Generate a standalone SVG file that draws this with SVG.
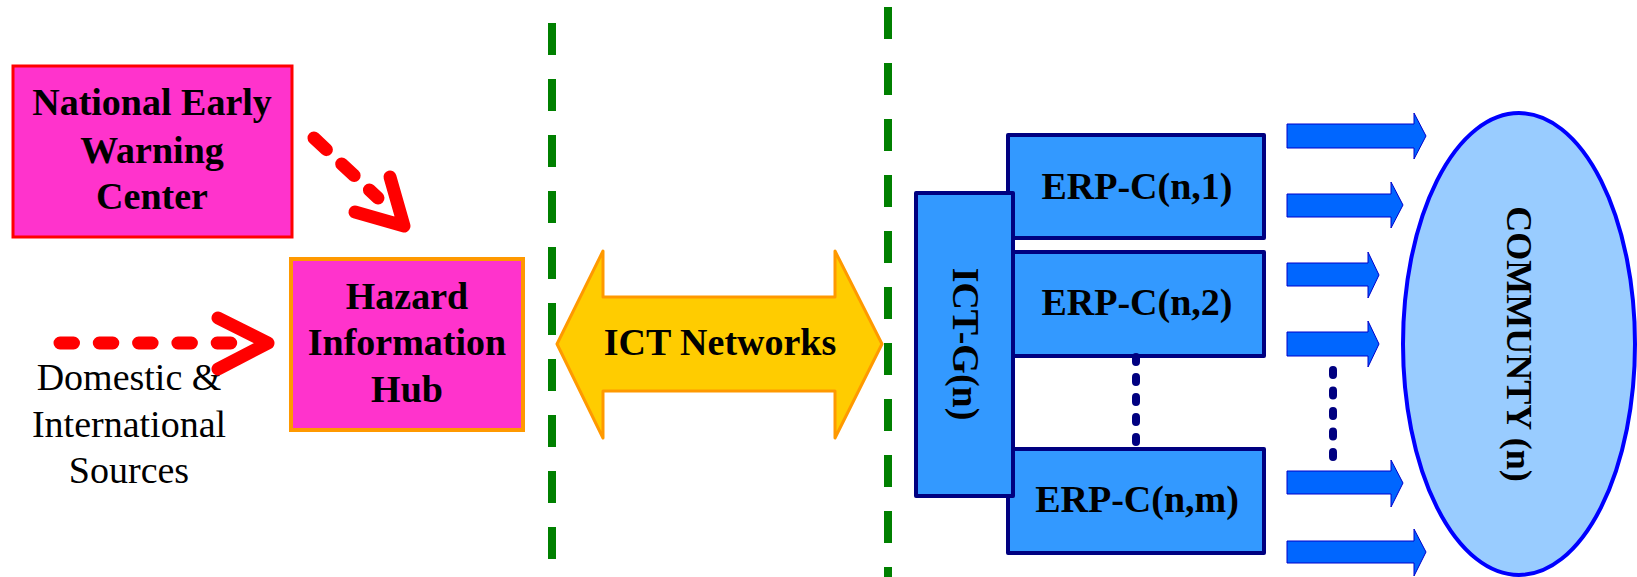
<svg xmlns="http://www.w3.org/2000/svg" width="1637" height="577" viewBox="0 0 1637 577">
<style>
.bt{font-family:"Liberation Serif","Times New Roman",serif;font-weight:bold;font-size:38px;fill:#000;text-anchor:middle}
.rt{font-family:"Liberation Serif","Times New Roman",serif;font-size:38px;fill:#000;text-anchor:middle}
.erp{fill:#3399FF;stroke:#000080;stroke-width:4;stroke-linejoin:round}
.sep{stroke:#008000;stroke-width:8;stroke-dasharray:32 24;fill:none}
.red{stroke:#FF0000;stroke-width:13;fill:none;stroke-linecap:round;stroke-linejoin:round}
.dots{stroke:#000080;stroke-width:8;stroke-linecap:round;fill:none}
.barrow{fill:#0066FF;stroke:#0000CC;stroke-width:1}
</style>
<rect width="1637" height="577" fill="#fff"/>
<g id="separators">
<line class="sep" x1="552" y1="23" x2="552" y2="577"/>
<line class="sep" x1="888" y1="7" x2="888" y2="577"/>
</g>
<g id="node-newc">
<rect x="13" y="66" width="279" height="171" fill="#FF33CC" stroke="#FF0000" stroke-width="3"/>
<text class="bt" x="152" y="115">National Early</text>
<text class="bt" x="152" y="163">Warning</text>
<text class="bt" x="152" y="209">Center</text>
</g>
<g id="node-hub">
<rect x="291" y="259" width="232" height="171" fill="#FF33CC" stroke="#FF9900" stroke-width="4"/>
<text class="bt" x="407" y="309">Hazard</text>
<text class="bt" x="407" y="355">Information</text>
<text class="bt" x="407" y="402">Hub</text>
</g>
<g id="node-sources">
<text class="rt" x="129" y="390">Domestic &amp;</text>
<text class="rt" x="129" y="437">International</text>
<text class="rt" x="129" y="483">Sources</text>
</g>
<g id="node-ict-networks">
<polygon points="557,344 603,251 603,297 835,297 835,251 882,344 835,438 835,391 603,391 603,438" fill="#FFCC00" stroke="#FF9900" stroke-width="3" stroke-linejoin="round"/>
<text class="bt" x="720" y="355">ICT Networks</text>
</g>
<g id="node-erp1">
<rect class="erp" x="1008" y="135" width="256" height="103"/>
<text class="bt" x="1137" y="199">ERP-C(n,1)</text>
</g>
<g id="node-erp2">
<rect class="erp" x="1008" y="252" width="256" height="104"/>
<text class="bt" x="1137" y="315">ERP-C(n,2)</text>
</g>
<g id="node-erpm">
<rect class="erp" x="1008" y="449" width="256" height="104"/>
<text class="bt" x="1137" y="512">ERP-C(n,m)</text>
</g>
<g id="node-ictg">
<rect class="erp" x="916" y="193" width="97" height="303"/>
<text class="bt" transform="translate(953,344) rotate(90)">ICT-G(n)</text>
</g>
<g id="node-community">
<ellipse cx="1519" cy="344" rx="116" ry="231" fill="#99CCFF" stroke="#0000FF" stroke-width="4"/>
<text class="bt" style="font-size:36px" transform="translate(1507,344) rotate(90)">COMMUNTY (n)</text>
</g>
<g id="connectors">
<line class="red" x1="60" y1="343" x2="231" y2="343" stroke-dasharray="13.5 25.8"/>
<polyline class="red" points="218,318 268,343 218,369"/>
<line class="red" x1="314" y1="138" x2="378" y2="198" stroke-dasharray="17 21"/>
<polyline class="red" points="355,212 404,226 390,177"/>
<line class="dots" x1="1136" y1="357" x2="1136" y2="442" stroke-dasharray="5 15"/>
<line class="dots" x1="1333" y1="370" x2="1333" y2="457" stroke-dasharray="5 15.5"/>
<polygon class="barrow" points="1287,124 1414,124 1414,113 1426,136 1414,159 1414,148 1287,148"/>
<polygon class="barrow" points="1287,194 1391,194 1391,182 1403,205 1391,228 1391,217 1287,217"/>
<polygon class="barrow" points="1287,263 1368,263 1368,252 1379,275 1368,298 1368,286 1287,286"/>
<polygon class="barrow" points="1287,332 1368,332 1368,321 1379,344 1368,367 1368,356 1287,356"/>
<polygon class="barrow" points="1287,471 1391,471 1391,460 1403,483 1391,507 1391,494 1287,494"/>
<polygon class="barrow" points="1287,541 1414,541 1414,529 1426,552 1414,576 1414,563 1287,563"/>
</g>
</svg>
